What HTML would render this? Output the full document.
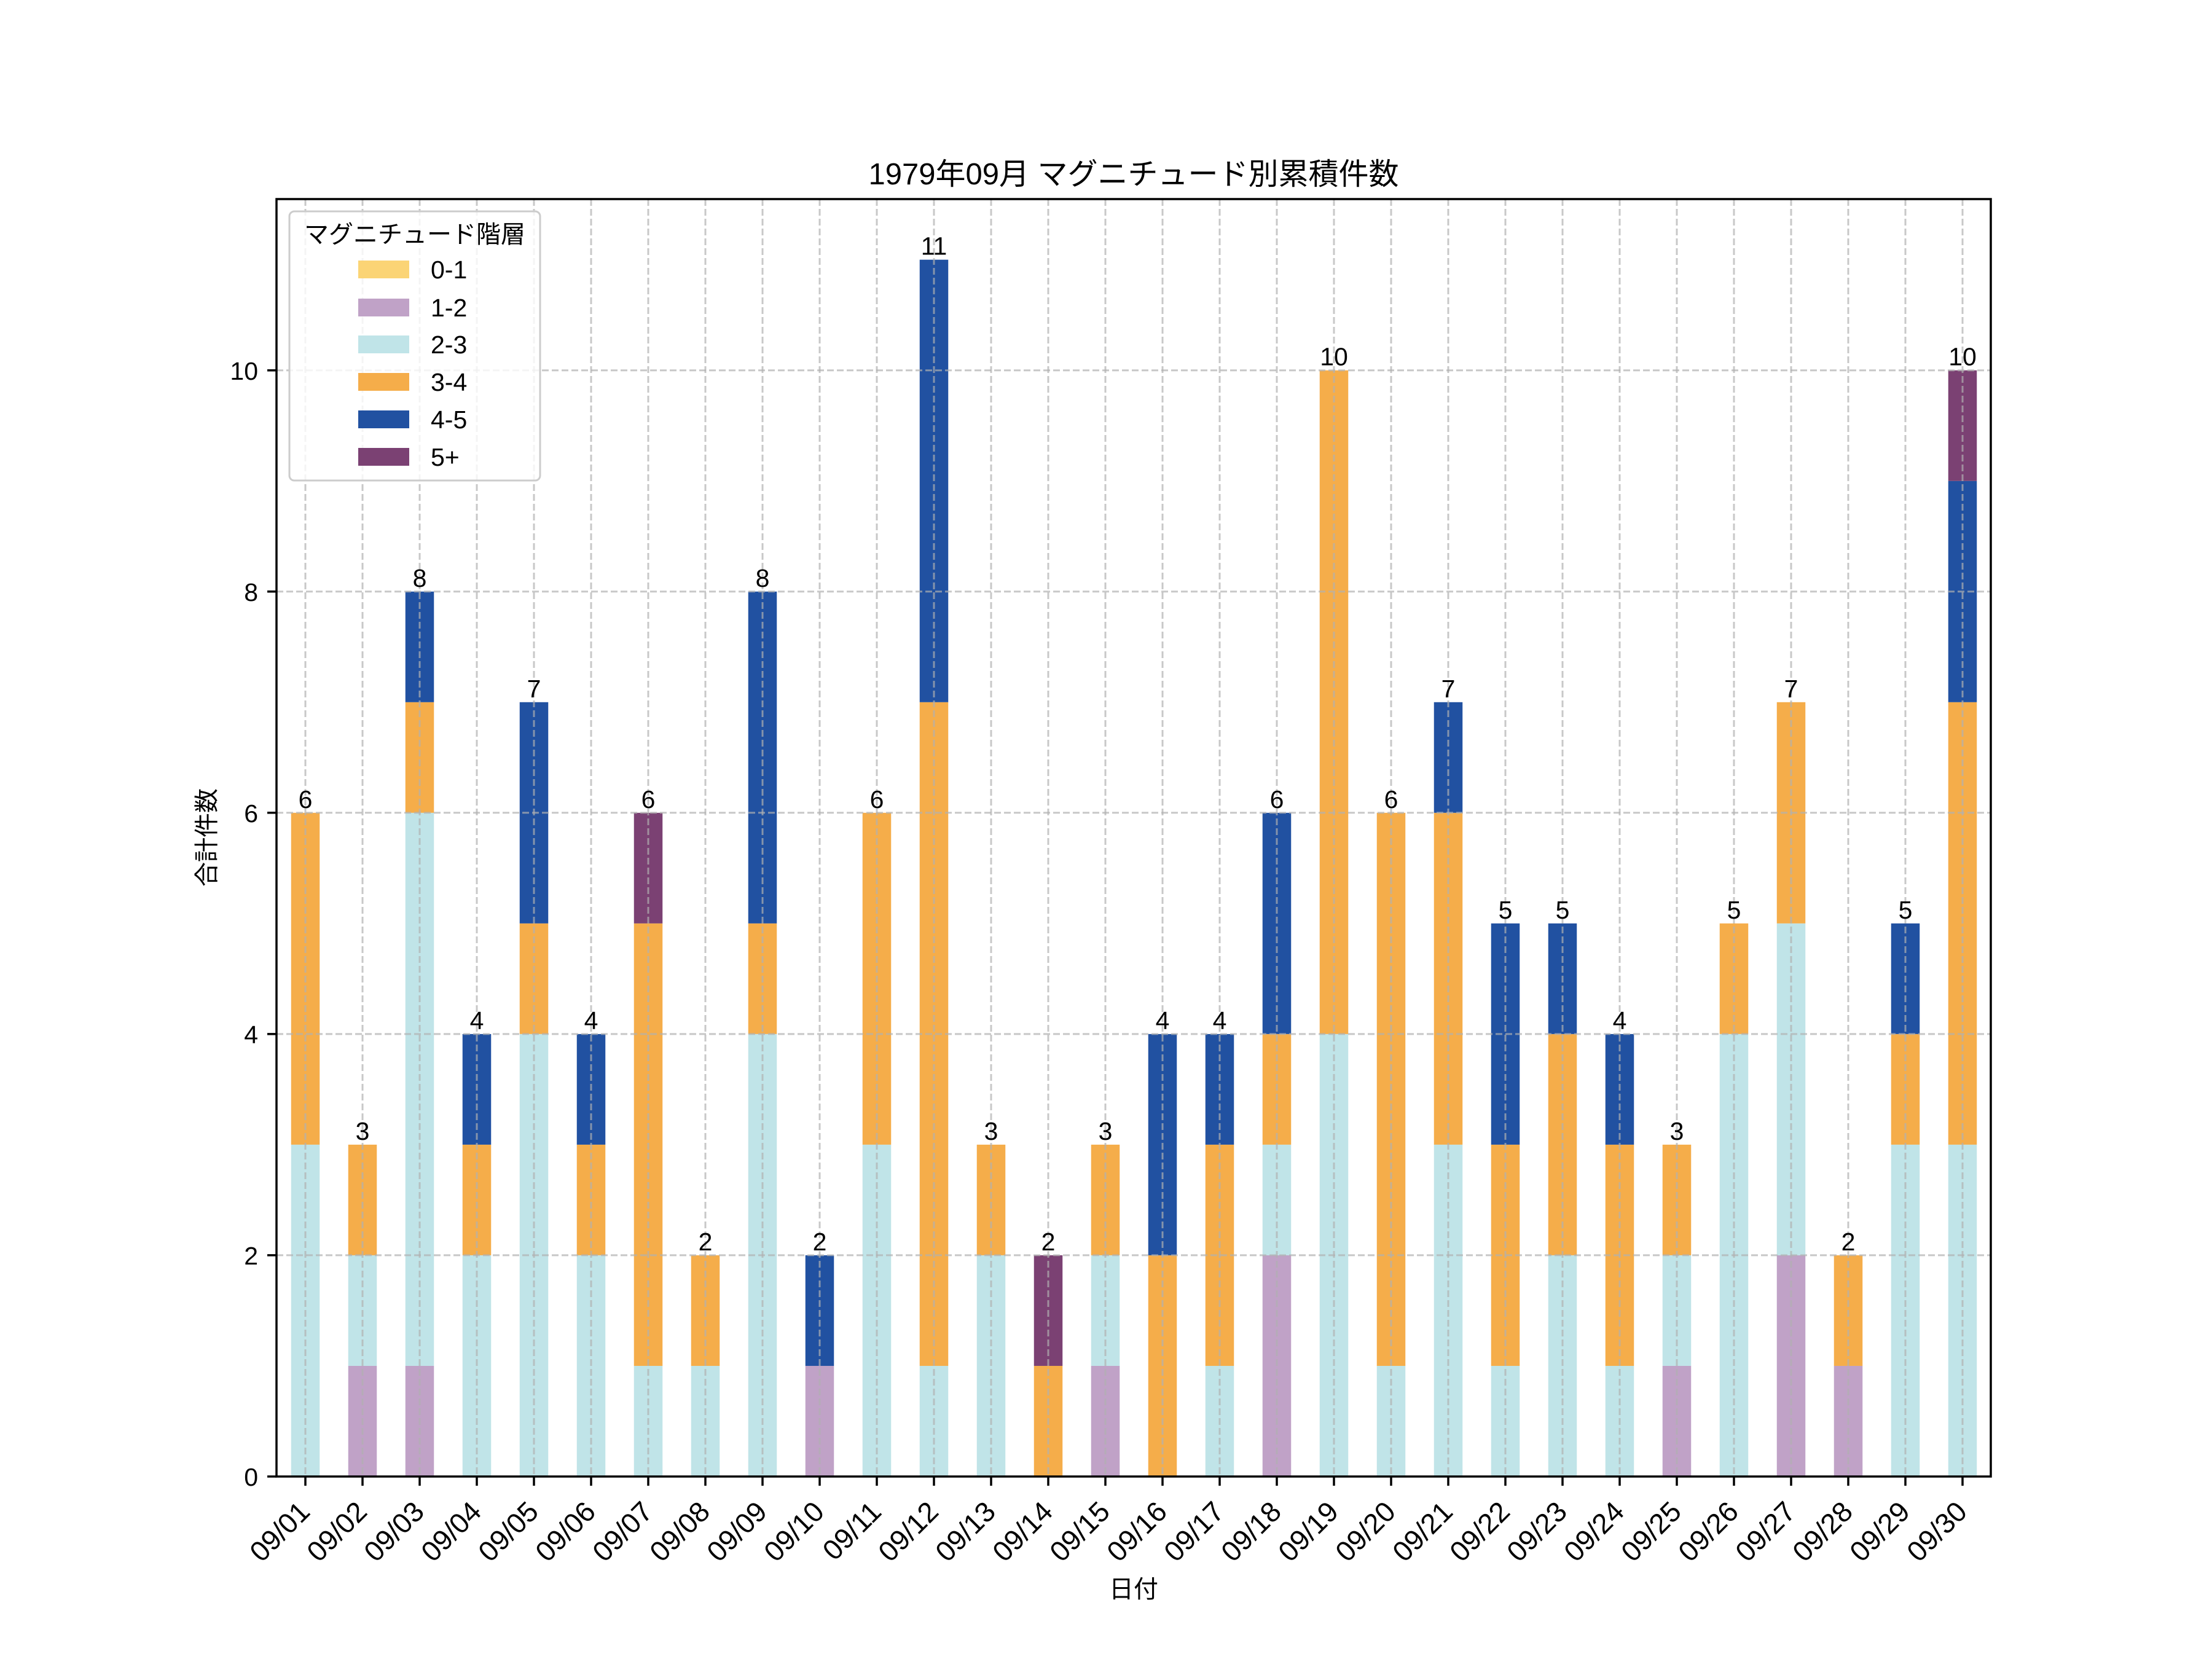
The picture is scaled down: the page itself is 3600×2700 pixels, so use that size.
<!DOCTYPE html>
<html><head><meta charset="utf-8"><style>
html,body{margin:0;padding:0;background:#fff}
svg{display:block}
text{font-family:"Liberation Sans","Noto Sans CJK JP",sans-serif;fill:#000}
</style></head><body>
<svg width="3600" height="2700" viewBox="0 0 3600 2700" xmlns="http://www.w3.org/2000/svg">
<rect width="3600" height="2700" fill="#fff"/>
<g transform="translate(497,2403) scale(93,-180.03)">
<g fill="#C0A2C7">
<rect x="0.75" y="0" width="0.5" height="1"/><rect x="1.75" y="0" width="0.5" height="1"/><rect x="8.75" y="0" width="0.5" height="1"/><rect x="13.75" y="0" width="0.5" height="1"/><rect x="16.75" y="0" width="0.5" height="2"/><rect x="23.75" y="0" width="0.5" height="1"/><rect x="25.75" y="0" width="0.5" height="2"/><rect x="26.75" y="0" width="0.5" height="1"/>
</g>
<g fill="#C0E4E8">
<rect x="-0.25" y="0" width="0.5" height="3"/><rect x="0.75" y="1" width="0.5" height="1"/><rect x="1.75" y="1" width="0.5" height="5"/><rect x="2.75" y="0" width="0.5" height="2"/><rect x="3.75" y="0" width="0.5" height="4"/><rect x="4.75" y="0" width="0.5" height="2"/><rect x="5.75" y="0" width="0.5" height="1"/><rect x="6.75" y="0" width="0.5" height="1"/><rect x="7.75" y="0" width="0.5" height="4"/><rect x="9.75" y="0" width="0.5" height="3"/><rect x="10.75" y="0" width="0.5" height="1"/><rect x="11.75" y="0" width="0.5" height="2"/><rect x="13.75" y="1" width="0.5" height="1"/><rect x="15.75" y="0" width="0.5" height="1"/><rect x="16.75" y="2" width="0.5" height="1"/><rect x="17.75" y="0" width="0.5" height="4"/><rect x="18.75" y="0" width="0.5" height="1"/><rect x="19.75" y="0" width="0.5" height="3"/><rect x="20.75" y="0" width="0.5" height="1"/><rect x="21.75" y="0" width="0.5" height="2"/><rect x="22.75" y="0" width="0.5" height="1"/><rect x="23.75" y="1" width="0.5" height="1"/><rect x="24.75" y="0" width="0.5" height="4"/><rect x="25.75" y="2" width="0.5" height="3"/><rect x="27.75" y="0" width="0.5" height="3"/><rect x="28.75" y="0" width="0.5" height="3"/>
</g>
<g fill="#F5AD4A">
<rect x="-0.25" y="3" width="0.5" height="3"/><rect x="0.75" y="2" width="0.5" height="1"/><rect x="1.75" y="6" width="0.5" height="1"/><rect x="2.75" y="2" width="0.5" height="1"/><rect x="3.75" y="4" width="0.5" height="1"/><rect x="4.75" y="2" width="0.5" height="1"/><rect x="5.75" y="1" width="0.5" height="4"/><rect x="6.75" y="1" width="0.5" height="1"/><rect x="7.75" y="4" width="0.5" height="1"/><rect x="9.75" y="3" width="0.5" height="3"/><rect x="10.75" y="1" width="0.5" height="6"/><rect x="11.75" y="2" width="0.5" height="1"/><rect x="12.75" y="0" width="0.5" height="1"/><rect x="13.75" y="2" width="0.5" height="1"/><rect x="14.75" y="0" width="0.5" height="2"/><rect x="15.75" y="1" width="0.5" height="2"/><rect x="16.75" y="3" width="0.5" height="1"/><rect x="17.75" y="4" width="0.5" height="6"/><rect x="18.75" y="1" width="0.5" height="5"/><rect x="19.75" y="3" width="0.5" height="3"/><rect x="20.75" y="1" width="0.5" height="2"/><rect x="21.75" y="2" width="0.5" height="2"/><rect x="22.75" y="1" width="0.5" height="2"/><rect x="23.75" y="2" width="0.5" height="1"/><rect x="24.75" y="4" width="0.5" height="1"/><rect x="25.75" y="5" width="0.5" height="2"/><rect x="26.75" y="1" width="0.5" height="1"/><rect x="27.75" y="3" width="0.5" height="1"/><rect x="28.75" y="3" width="0.5" height="4"/>
</g>
<g fill="#2151A1">
<rect x="1.75" y="7" width="0.5" height="1"/><rect x="2.75" y="3" width="0.5" height="1"/><rect x="3.75" y="5" width="0.5" height="2"/><rect x="4.75" y="3" width="0.5" height="1"/><rect x="7.75" y="5" width="0.5" height="3"/><rect x="8.75" y="1" width="0.5" height="1"/><rect x="10.75" y="7" width="0.5" height="4"/><rect x="14.75" y="2" width="0.5" height="2"/><rect x="15.75" y="3" width="0.5" height="1"/><rect x="16.75" y="4" width="0.5" height="2"/><rect x="19.75" y="6" width="0.5" height="1"/><rect x="20.75" y="3" width="0.5" height="2"/><rect x="21.75" y="4" width="0.5" height="1"/><rect x="22.75" y="3" width="0.5" height="1"/><rect x="27.75" y="4" width="0.5" height="1"/><rect x="28.75" y="7" width="0.5" height="2"/>
</g>
<g fill="#7B4173">
<rect x="5.75" y="5" width="0.5" height="1"/><rect x="12.75" y="1" width="0.5" height="1"/><rect x="28.75" y="9" width="0.5" height="1"/>
</g>
</g>
<g stroke="#b0b0b0" stroke-opacity="0.7" stroke-width="3" stroke-dasharray="11,5" fill="none">
<path d="M450 2042.9H3240M450 1682.9H3240M450 1322.8H3240M450 962.8H3240M450 602.7H3240"/>
<path d="M497 324V2403M590 324V2403M683 324V2403M776 324V2403M869 324V2403M962 324V2403M1055 324V2403M1148 324V2403M1241 324V2403M1334 324V2403M1427 324V2403M1520 324V2403M1613 324V2403M1706 324V2403M1799 324V2403M1892 324V2403M1985 324V2403M2078 324V2403M2171 324V2403M2264 324V2403M2357 324V2403M2450 324V2403M2543 324V2403M2636 324V2403M2729 324V2403M2822 324V2403M2915 324V2403M3008 324V2403M3101 324V2403M3194 324V2403"/>
</g>
<g font-size="41" text-anchor="middle">
<text x="497" y="1314.8">6</text><text x="590" y="1854.9">3</text><text x="683" y="954.8">8</text><text x="776" y="1674.9">4</text><text x="869" y="1134.8">7</text><text x="962" y="1674.9">4</text><text x="1055" y="1314.8">6</text><text x="1148" y="2034.9">2</text><text x="1241" y="954.8">8</text><text x="1334" y="2034.9">2</text><text x="1427" y="1314.8">6</text><text x="1520" y="414.7">11</text><text x="1613" y="1854.9">3</text><text x="1706" y="2034.9">2</text><text x="1799" y="1854.9">3</text><text x="1892" y="1674.9">4</text><text x="1985" y="1674.9">4</text><text x="2078" y="1314.8">6</text><text x="2171" y="594.7">10</text><text x="2264" y="1314.8">6</text><text x="2357" y="1134.8">7</text><text x="2450" y="1494.9">5</text><text x="2543" y="1494.9">5</text><text x="2636" y="1674.9">4</text><text x="2729" y="1854.9">3</text><text x="2822" y="1494.9">5</text><text x="2915" y="1134.8">7</text><text x="3008" y="2034.9">2</text><text x="3101" y="1494.9">5</text><text x="3194" y="594.7">10</text>
</g>
<rect x="471" y="344" width="408" height="438" rx="8" fill="#fff" fill-opacity="0.8" stroke="#cccccc" stroke-width="3"/>
<text x="675" y="395" font-size="40" text-anchor="middle">マグニチュード階層</text>
<rect x="583" y="424" width="83" height="29" fill="#FBD475"/>
<rect x="583" y="486" width="83" height="29" fill="#C0A2C7"/>
<rect x="583" y="546" width="83" height="29" fill="#C0E4E8"/>
<rect x="583" y="607" width="83" height="29" fill="#F5AD4A"/>
<rect x="583" y="668" width="83" height="29" fill="#2151A1"/>
<rect x="583" y="729" width="83" height="29" fill="#7B4173"/>
<g font-size="41">
<text x="701" y="453">0-1</text><text x="701" y="515">1-2</text><text x="701" y="575">2-3</text><text x="701" y="636">3-4</text><text x="701" y="697">4-5</text><text x="701" y="758">5+</text>
</g>
<rect x="450" y="324" width="2790" height="2079" fill="none" stroke="#000" stroke-width="3.5"/>
<g stroke="#000" stroke-width="3.5">
<path d="M435 2403H450M435 2042.9H450M435 1682.9H450M435 1322.8H450M435 962.8H450M435 602.7H450"/>
<path d="M497 2403V2418M590 2403V2418M683 2403V2418M776 2403V2418M869 2403V2418M962 2403V2418M1055 2403V2418M1148 2403V2418M1241 2403V2418M1334 2403V2418M1427 2403V2418M1520 2403V2418M1613 2403V2418M1706 2403V2418M1799 2403V2418M1892 2403V2418M1985 2403V2418M2078 2403V2418M2171 2403V2418M2264 2403V2418M2357 2403V2418M2450 2403V2418M2543 2403V2418M2636 2403V2418M2729 2403V2418M2822 2403V2418M2915 2403V2418M3008 2403V2418M3101 2403V2418M3194 2403V2418"/>
</g>
<g font-size="41" text-anchor="end">
<text x="420" y="2418">0</text><text x="420" y="2058">2</text><text x="420" y="1698">4</text><text x="420" y="1338">6</text><text x="420" y="978">8</text><text x="420" y="618">10</text>
</g>
<g font-size="46" text-anchor="end">
<text transform="translate(507,2463) rotate(-45)">09/01</text>
<text transform="translate(600,2463) rotate(-45)">09/02</text>
<text transform="translate(693,2463) rotate(-45)">09/03</text>
<text transform="translate(786,2463) rotate(-45)">09/04</text>
<text transform="translate(879,2463) rotate(-45)">09/05</text>
<text transform="translate(972,2463) rotate(-45)">09/06</text>
<text transform="translate(1065,2463) rotate(-45)">09/07</text>
<text transform="translate(1158,2463) rotate(-45)">09/08</text>
<text transform="translate(1251,2463) rotate(-45)">09/09</text>
<text transform="translate(1344,2463) rotate(-45)">09/10</text>
<text transform="translate(1437,2463) rotate(-45)">09/11</text>
<text transform="translate(1530,2463) rotate(-45)">09/12</text>
<text transform="translate(1623,2463) rotate(-45)">09/13</text>
<text transform="translate(1716,2463) rotate(-45)">09/14</text>
<text transform="translate(1809,2463) rotate(-45)">09/15</text>
<text transform="translate(1902,2463) rotate(-45)">09/16</text>
<text transform="translate(1995,2463) rotate(-45)">09/17</text>
<text transform="translate(2088,2463) rotate(-45)">09/18</text>
<text transform="translate(2181,2463) rotate(-45)">09/19</text>
<text transform="translate(2274,2463) rotate(-45)">09/20</text>
<text transform="translate(2367,2463) rotate(-45)">09/21</text>
<text transform="translate(2460,2463) rotate(-45)">09/22</text>
<text transform="translate(2553,2463) rotate(-45)">09/23</text>
<text transform="translate(2646,2463) rotate(-45)">09/24</text>
<text transform="translate(2739,2463) rotate(-45)">09/25</text>
<text transform="translate(2832,2463) rotate(-45)">09/26</text>
<text transform="translate(2925,2463) rotate(-45)">09/27</text>
<text transform="translate(3018,2463) rotate(-45)">09/28</text>
<text transform="translate(3111,2463) rotate(-45)">09/29</text>
<text transform="translate(3204,2463) rotate(-45)">09/30</text>
</g>
<text x="1845" y="300" font-size="49" text-anchor="middle">1979年09月 マグニチュード別累積件数</text>
<text x="1845" y="2600" font-size="40" text-anchor="middle">日付</text>
<text transform="translate(350,1363) rotate(-90)" font-size="40" text-anchor="middle">合計件数</text>
</svg>
</body></html>
